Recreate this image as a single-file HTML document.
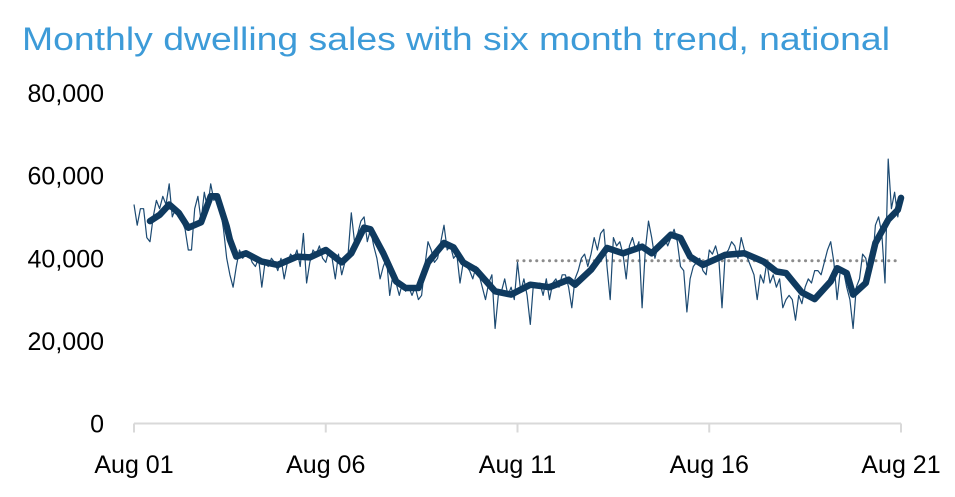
<!DOCTYPE html>
<html><head><meta charset="utf-8">
<style>
html,body{margin:0;padding:0;background:#fff;}
body{width:955px;height:492px;overflow:hidden;font-family:"Liberation Sans",sans-serif;}
</style></head>
<body>
<svg id="chart" width="955" height="492" xmlns="http://www.w3.org/2000/svg">
<text x="22" y="50" font-size="32" fill="#3d9bd8" textLength="868" lengthAdjust="spacingAndGlyphs" font-family="Liberation Sans, sans-serif">Monthly dwelling sales with six month trend, national</text>
<g id="yaxis"></g>
<g id="xaxis"></g>
<g id="plot"></g>
</svg>
<script>
const yTicks=[0,20000,40000,60000,80000];
const xTickLabels=["Aug 01","Aug 06","Aug 11","Aug 16","Aug 21"];
const xTickMonths=[0,60,120,180,240];
const monthly=[53,48,52,52,45,44,50,54,52,55,53,58,
50,52,51,49,47,42,42,52,55,49,56,52,
58,54,55,52,47,40,36,33,38,42,40,41,
41,39,38,40,33,39,38,40,39,37,40,35,
39,41,40,42,38,46,34,39,42,41,43,40,
39,42,40,35,41,36,39,41,51,44,46,49,
50,44,47,43,40,35,38,40,31,36,34,31,
34,32,33,31,33,30,31,38,44,42,39,40,
44,48,42,43,40,41,34,39,38,37,35,38,
36,33,30,34,36,23,31,32,35,31,33,30,
39,32,35,31,24,34,33,34,31,35,30,34,
35,33,36,36,33,28,35,37,40,41,38,41,
45,42,46,47,38,30,45,43,44,41,35,43,
45,42,44,28,42,49,45,40,43,44,45,43,
45,47,44,38,37,27,35,38,39,40,37,36,
42,41,43,40,28,41,42,44,43,40,45,42,
40,38,36,30,36,34,39,34,36,33,35,28,
30,31,30,25,31,29,33,35,34,37,37,36,
39,42,44,39,30,37,37,33,30,23,33,35,
41,40,35,38,48,50,46,34,64,52,56,50,55];
const trendMonths=[5,8,11,14,17,21,24,26,29,30,32,35,40,45,51,55,60,65,68,72,74,78,82,85,89,92,97,100,103,107,113,118,124,130,136,138,143,148,153,159,162,168,171,174,178,185,191,197,201,204,209,213,218,220,223,225,229,232,236,239,240];
const trendValues=[49,50.5,53,51,47.4,48.7,55,55,47.7,44.5,40.4,41.2,39.2,38.4,40.4,40.2,42,39,41.2,47.4,47,41.2,34.4,32.8,32.8,39,43.7,42.6,39,37.2,32,31.2,33.6,33,34.8,33.6,37.2,42.5,41.2,42.8,41.2,45.7,44.9,40.4,38.4,40.8,41.2,39.2,36.8,36.4,31.7,30.1,34.4,37.6,36.4,31.2,34,43.7,49.3,51.7,54.6];
const avgStartMonth=120, avgValue=39400;

const NS="http://www.w3.org/2000/svg";
const x0=134,x1=901,yb=423.5,yt=93;
function xs(m){return x0+(x1-x0)*m/240;}
function ys(v){return yb-(yb-yt)*v/80000;}
function mk(tag,attrs,parent){const e=document.createElementNS(NS,tag);for(const k in attrs)e.setAttribute(k,attrs[k]);parent.appendChild(e);return e;}
const ya=document.getElementById('yaxis'),xa=document.getElementById('xaxis'),pl=document.getElementById('plot');
yTicks.forEach(v=>{
  const t=mk('text',{x:104,y:ys(v)+9,'text-anchor':'end','font-size':25,fill:'#000'},ya);
  t.textContent=v.toLocaleString('en-US');
  
  
});
const ax=mk('line',{x1:x0,x2:x1,y1:yb,y2:yb,stroke:'#d9d9d9','stroke-width':2},xa);


xTickMonths.forEach((m,i)=>{
  const tk=mk('line',{x1:xs(m),x2:xs(m),y1:yb,y2:yb+9,stroke:'#d9d9d9','stroke-width':2},xa);
  
  
  const t=mk('text',{x:xs(m),y:473,'text-anchor':'middle','font-size':25,fill:'#000'},xa);
  t.textContent=xTickLabels[i];
  
  
});
const avg=mk('line',{x1:xs(avgStartMonth),x2:xs(240),y1:ys(avgValue),y2:ys(avgValue),stroke:'#8c8c8c','stroke-width':3,'stroke-dasharray':'0.1 6.3','stroke-linecap':'round'},pl);


const mp=monthly.map((v,i)=>xs(i).toFixed(1)+','+ys(v*1000).toFixed(1)).join(' ');
const ml=mk('polyline',{points:mp,fill:'none',stroke:'#1c4a72','stroke-width':1.2,'stroke-linejoin':'round'},pl);


const tp=trendMonths.map((m,i)=>xs(m).toFixed(1)+','+ys(trendValues[i]*1000).toFixed(1)).join(' ');
const tl=mk('polyline',{points:tp,fill:'none',stroke:'#0f3a5f','stroke-width':6.5,'stroke-linejoin':'round','stroke-linecap':'round'},pl);


</script>
</body></html>
